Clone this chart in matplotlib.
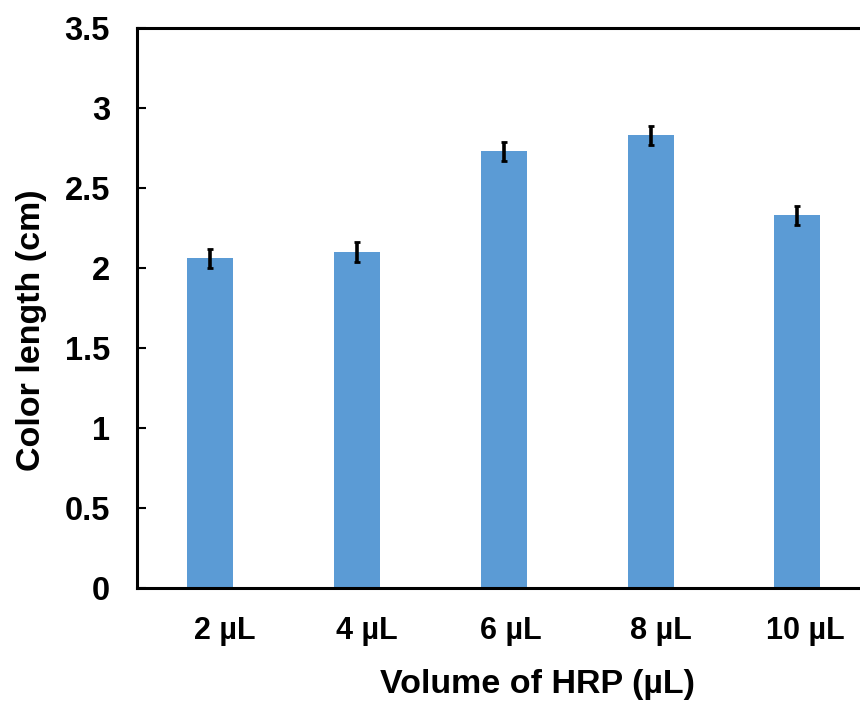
import matplotlib
matplotlib.use('Agg')
import matplotlib.pyplot as plt
from matplotlib.transforms import ScaledTranslation

categories = ['2 µL', '4 µL', '6 µL', '8 µL', '10 µL']
values = [2.06, 2.10, 2.73, 2.83, 2.33]
errors = [0.06, 0.06, 0.06, 0.06, 0.06]
yticks = [0, 0.5, 1, 1.5, 2, 2.5, 3, 3.5]
yticklabels = ['0', '0.5', '1', '1.5', '2', '2.5', '3', '3.5']
label_shift_px = [14, 10, 7, 10, 8]

plt.rcParams['font.family'] = ['Liberation Sans', 'DejaVu Sans']
plt.rcParams['font.weight'] = 'bold'

fig = plt.figure(figsize=(8.6, 7.02), dpi=100)
ax = fig.add_axes([137/860, 1-588/702, (859-137)/860, (588-28)/702])
x = list(range(len(categories)))
ax.bar(x, values, width=0.315, color='#5B9BD5',
       yerr=errors, error_kw=dict(ecolor='black', elinewidth=2.6, capsize=2.5, capthick=2))
ax.set_xlim(-0.5, 4.42)
ax.set_ylim(0, 3.5)
ax.set_yticks(yticks)
ax.set_yticklabels(yticklabels)
ax.set_xticks(x)
ax.set_xticklabels(categories)
ax.tick_params(axis='y', labelsize=23.5, width=1.5, length=6.5, direction='in', pad=19.5)
ax.tick_params(axis='x', labelsize=22, length=0, pad=20)
for lab, px in zip(ax.get_xticklabels(), label_shift_px):
    lab.set_transform(lab.get_transform() + ScaledTranslation(px/100, 0, fig.dpi_scale_trans))
for s in ax.spines.values():
    s.set_linewidth(2.2)
ax.spines['right'].set_visible(False)
ax.set_ylabel('Color length (cm)', fontsize=24.5, fontweight='bold')
ax.yaxis.set_label_coords((47-137)/722, (588-330)/560)
fig.text(538/860, 1-685/702, 'Volume of HRP (µL)', fontsize=24.5, fontweight='bold', ha='center', va='center')
fig.savefig('out.png', dpi=100)
